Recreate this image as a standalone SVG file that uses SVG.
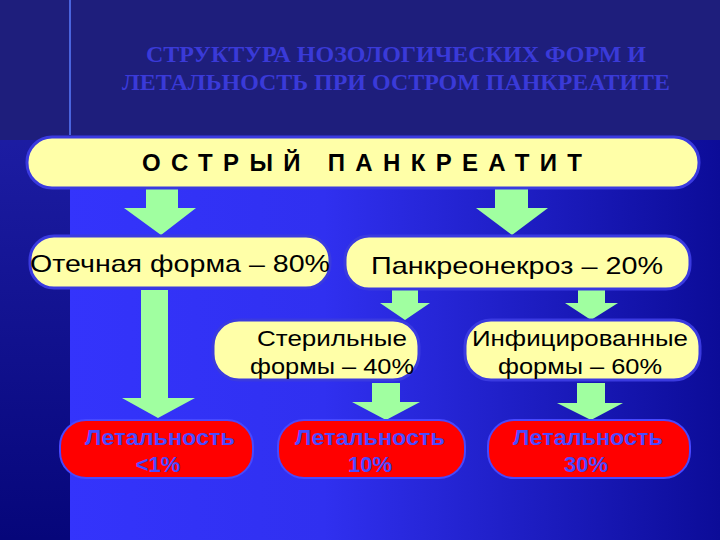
<svg xmlns="http://www.w3.org/2000/svg" width="720" height="540" viewBox="0 0 720 540">
<defs>
<linearGradient id="bg" x1="0" y1="0" x2="1" y2="0"><stop offset="0" stop-color="#3535ff"/><stop offset="0.45" stop-color="#3030f0"/><stop offset="1" stop-color="#0c0c98"/></linearGradient>
<linearGradient id="side" x1="0" y1="0" x2="0" y2="1"><stop offset="0" stop-color="#2424b0"/><stop offset="1" stop-color="#06067a"/></linearGradient>
<style>
.y{fill:#ffffa8;stroke:#3a3ae0;stroke-width:3}
.r{fill:#ff0000;stroke:#4848ff;stroke-width:2}
.a{fill:#a0ffa0}
.t{font-family:"Liberation Sans",Arial,sans-serif;fill:#000;text-anchor:middle}
.rt{font-family:"Liberation Sans",Arial,sans-serif;fill:#4a4aff;font-weight:bold;font-size:22px;text-anchor:middle}
</style>
</defs>
<rect width="720" height="540" fill="url(#bg)"/>
<rect width="70" height="540" fill="url(#side)"/>
<rect x="70" width="650" height="140" fill="#1e1e7c"/>
<rect width="70" height="140" fill="#1e1e7c"/>
<line x1="70" y1="0" x2="70" y2="135" stroke="#5a7cff" stroke-width="1.5"/>
<text x="396" y="62" font-family="Liberation Serif,serif" font-weight="bold" font-size="23" fill="#3a3ad8" text-anchor="middle" textLength="500" lengthAdjust="spacingAndGlyphs">СТРУКТУРА НОЗОЛОГИЧЕСКИХ ФОРМ И</text>
<text x="396" y="90" font-family="Liberation Serif,serif" font-weight="bold" font-size="23" fill="#3a3ad8" text-anchor="middle" textLength="548" lengthAdjust="spacingAndGlyphs">ЛЕТАЛЬНОСТЬ ПРИ ОСТРОМ ПАНКРЕАТИТЕ</text>
<g id="connectors">
<polygon class="a" points="146,188 178,188 178,208 196,208 161,235 124,208 146,208"/>
<polygon class="a" points="495,188 528,188 528,208 548,208 512,235 476,208 495,208"/>
<polygon class="a" points="141,290 168,290 168,398 195,398 158,418 122,398 141,398"/>
<polygon class="a" points="392,290 418,290 418,303 430,303 405,320 380,303 392,303"/>
<polygon class="a" points="578,290 605,290 605,303 618,303 591,320 565,303 578,303"/>
<polygon class="a" points="372,383 400,383 400,402 420,402 386,420 352,402 372,402"/>
<polygon class="a" points="577,383 605,383 605,403 623,403 591,420 557,403 577,403"/>
</g>
<g id="root"><rect class="y" x="27" y="137" width="672" height="51" rx="25"/><text class="t" x="362" y="171" font-size="24" font-weight="bold" textLength="440" lengthAdjust="spacing">ОСТРЫЙ ПАНКРЕАТИТ</text></g>
<g id="oted"><rect class="y" x="30" y="236" width="300" height="52" rx="24"/><text class="t" x="180" y="272" font-size="24" textLength="300" lengthAdjust="spacingAndGlyphs">Отечная форма – 80%</text></g>
<g id="necro"><rect class="y" x="345" y="236" width="345" height="53" rx="24"/><text class="t" x="517" y="274" font-size="24" textLength="292" lengthAdjust="spacingAndGlyphs">Панкреонекроз – 20%</text></g>
<g id="steril"><rect class="y" x="213" y="320" width="206" height="60" rx="26"/><text class="t" x="332" y="346" font-size="22" textLength="150" lengthAdjust="spacingAndGlyphs">Стерильные</text><text class="t" x="332" y="374" font-size="22" textLength="164" lengthAdjust="spacingAndGlyphs">формы – 40%</text></g>
<g id="infic"><rect class="y" x="465" y="320" width="235" height="60" rx="26"/><text class="t" x="580" y="346" font-size="22" textLength="216" lengthAdjust="spacingAndGlyphs">Инфицированные</text><text class="t" x="580" y="374" font-size="22" textLength="164" lengthAdjust="spacingAndGlyphs">формы – 60%</text></g>
<g id="l1"><rect class="r" x="60" y="420" width="193" height="58" rx="26"/><text class="rt" x="160" y="445" textLength="150" lengthAdjust="spacingAndGlyphs">Летальность</text><text class="rt" x="158" y="472">&lt;1%</text></g>
<g id="l2"><rect class="r" x="278" y="420" width="187" height="58" rx="26"/><text class="rt" x="370" y="445" textLength="150" lengthAdjust="spacingAndGlyphs">Летальность</text><text class="rt" x="370" y="472">10%</text></g>
<g id="l3"><rect class="r" x="488" y="420" width="202" height="58" rx="26"/><text class="rt" x="588" y="445" textLength="150" lengthAdjust="spacingAndGlyphs">Летальность</text><text class="rt" x="586" y="472">30%</text></g>
</svg>
